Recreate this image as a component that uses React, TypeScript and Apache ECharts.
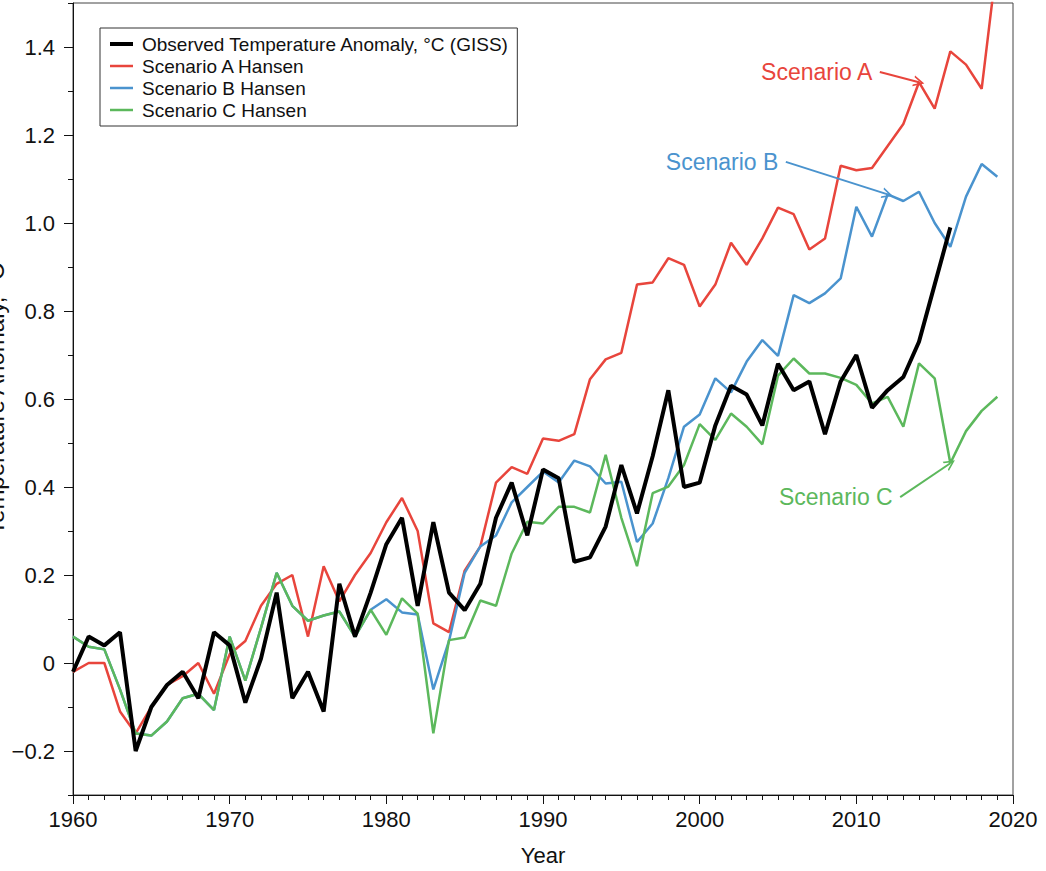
import React, { useEffect, useRef } from "react";
import * as echarts from "echarts";

const startYear = 1960;

const observed = [
  -0.02, 0.06, 0.04, 0.07, -0.2, -0.1, -0.05, -0.02, -0.08, 0.07,
  0.04, -0.09, 0.01, 0.16, -0.08, -0.02, -0.11, 0.18, 0.06, 0.16,
  0.27, 0.33, 0.13, 0.32, 0.16, 0.12, 0.18, 0.33, 0.41, 0.29,
  0.44, 0.42, 0.23, 0.24, 0.31, 0.45, 0.34, 0.47, 0.62, 0.4,
  0.41, 0.54, 0.63, 0.61, 0.54, 0.68, 0.62, 0.64, 0.52, 0.64,
  0.7, 0.58, 0.62, 0.65, 0.73, 0.86, 0.99,
];

const scenarioA = [
  -0.02, 0.0, 0.0, -0.11, -0.16, -0.1, -0.05, -0.03, 0.0, -0.07,
  0.02, 0.05, 0.13, 0.18, 0.2, 0.06, 0.22, 0.14, 0.2, 0.25,
  0.32, 0.375, 0.3, 0.09, 0.07, 0.21, 0.265, 0.41, 0.445, 0.43,
  0.51, 0.505, 0.52, 0.645, 0.69, 0.705, 0.86, 0.865, 0.92, 0.905,
  0.81, 0.86, 0.955, 0.905, 0.965, 1.035, 1.02, 0.94, 0.965, 1.13,
  1.12, 1.125, 1.175, 1.225, 1.32, 1.26, 1.39, 1.36, 1.305, 1.6,
];

const scenarioB = [
  0.06, 0.037, 0.031, -0.06, -0.16, -0.165, -0.133, -0.08, -0.07, -0.107,
  0.06, -0.04, 0.08, 0.205, 0.13, 0.096, 0.108, 0.117, 0.06, 0.121,
  0.145, 0.115, 0.11, -0.06, 0.05, 0.205, 0.265, 0.29, 0.365, 0.4,
  0.435, 0.41, 0.46, 0.447, 0.408, 0.412, 0.275, 0.317, 0.42, 0.537,
  0.565, 0.647, 0.615, 0.685, 0.734, 0.698, 0.836, 0.818, 0.84, 0.874,
  1.037, 0.969, 1.065, 1.05, 1.071, 1.0, 0.946, 1.06, 1.134, 1.105,
];

const scenarioC = [
  0.06, 0.037, 0.031, -0.06, -0.16, -0.165, -0.133, -0.08, -0.07, -0.107,
  0.06, -0.04, 0.08, 0.205, 0.13, 0.096, 0.108, 0.117, 0.06, 0.121,
  0.064, 0.147, 0.112, -0.16, 0.052, 0.058, 0.142, 0.13, 0.249, 0.321,
  0.317, 0.355, 0.355, 0.342, 0.473, 0.33, 0.22, 0.386, 0.401, 0.45,
  0.543, 0.507, 0.567, 0.537, 0.497, 0.653, 0.692, 0.658, 0.658, 0.648,
  0.632, 0.59, 0.605, 0.537, 0.681, 0.647, 0.454, 0.527, 0.573, 0.605,
];

const yMajorTicks = [-0.2, 0, 0.2, 0.4, 0.6, 0.8, 1.0, 1.2, 1.4];

const seriesNames = [
  "Observed Temperature Anomaly, °C (GISS)",
  "Scenario A Hansen",
  "Scenario B Hansen",
  "Scenario C Hansen",
];

const RED = "#E8453C";
const BLUE = "#4A93CE";
const GREEN = "#5CB85C";
const FONT = "'Liberation Sans', Arial, Helvetica, sans-serif";

// annotation: label text, arrow start (data coords) and the year it points to
const annotations = {
  A: { text: "Scenario A", start: [2011.5, 1.343], year: 2014 },
  B: { text: "Scenario B", start: [2005.5, 1.139], year: 2012 },
  C: { text: "Scenario C", start: [2012.8, 0.377], year: 2016 },
};

const chevron = "path://M0,10 L5,0 L10,10 L8.4,10 L5,3.2 L1.6,10 Z";
const thickIcon = "path://M0,0 L23,0 L23,4 L0,4 Z";
const thinIcon = "path://M0,0 L23,0 L23,2.5 L0,2.5 Z";

const toPairs = (vals: number[]) => vals.map((v, i) => [startYear + i, v]);

function annotate(values: number[], ann: { text: string; start: number[]; year: number }, color: string) {
  const target = [ann.year, values[ann.year - startYear]];
  return {
    markLine: {
      silent: true,
      animation: false,
      symbol: ["none", chevron],
      symbolSize: [11, 11],
      lineStyle: { color, width: 2, type: "solid" },
      label: { show: false },
      data: [[{ coord: ann.start }, { coord: target }]],
    },
    markPoint: {
      silent: true,
      animation: false,
      data: [
        {
          coord: ann.start,
          symbol: "circle",
          symbolSize: 1,
          itemStyle: { color: "rgba(0,0,0,0)" },
          label: {
            show: true,
            position: "left",
            distance: 7,
            formatter: ann.text,
            color,
            fontSize: 23,
            fontFamily: FONT,
          },
        },
      ],
    },
  };
}

export default function App() {
  const ref = useRef<HTMLDivElement>(null);

  useEffect(() => {
    if (!ref.current) return;
    const chart = echarts.init(ref.current, null, { renderer: "svg" });
    const fmtY = (v: number) => {
      const r = Math.round(v * 10) / 10;
      if (Math.abs(r) < 1e-9) return "0";
      return r < 0 ? "\u2212" + Math.abs(r).toFixed(1) : r.toFixed(1);
    };
    const option: any = {
      animation: false,
      backgroundColor: "#ffffff",
      textStyle: { fontFamily: FONT },
      grid: {
        left: 73,
        right: 33,
        top: 3,
        bottom: 76,
        show: true,
        borderColor: "#444",
        borderWidth: 1,
        containLabel: false,
        outerBoundsMode: "none",
      },
      legend: {
        orient: "vertical",
        left: 100,
        top: 28,
        padding: [5, 8, 5, 10],
        itemGap: 0,
        itemWidth: 23,
        itemHeight: 14,
        symbolKeepAspect: true,
        backgroundColor: "#fff",
        borderColor: "#333",
        borderWidth: 1,
        borderRadius: 0,
        textStyle: {
          fontSize: 19,
          lineHeight: 22,
          color: "#111",
          fontFamily: FONT,
          padding: [0, 0, 0, 4],
        },
        data: [
          { name: seriesNames[0], icon: thickIcon, itemStyle: { color: "#000" } },
          { name: seriesNames[1], icon: thinIcon, itemStyle: { color: RED } },
          { name: seriesNames[2], icon: thinIcon, itemStyle: { color: BLUE } },
          { name: seriesNames[3], icon: thinIcon, itemStyle: { color: GREEN } },
        ],
      },
      xAxis: {
        type: "value",
        min: 1960,
        max: 2020,
        interval: 10,
        name: "Year",
        nameLocation: "middle",
        nameGap: 49,
        nameMoveOverlap: false,
        nameTextStyle: { fontSize: 22, color: "#111", fontFamily: FONT },
        axisLine: { show: true, onZero: false, lineStyle: { color: "#111", width: 1 } },
        axisTick: { show: true, inside: false, length: 9, lineStyle: { color: "#111" } },
        minorTick: { show: true, splitNumber: 10, length: 5, lineStyle: { color: "#111" } },
        axisLabel: {
          fontSize: 22,
          color: "#111",
          margin: 13,
          fontFamily: FONT,
          formatter: (v: number) => String(v),
        },
        splitLine: { show: false },
        minorSplitLine: { show: false },
      },
      yAxis: [
        {
          type: "value",
          min: -0.3,
          max: 1.5,
          interval: 0.1,
          position: "left",
          axisLine: { show: true, onZero: false, lineStyle: { color: "#111", width: 1 } },
          axisTick: { show: true, inside: false, length: 5, lineStyle: { color: "#111" } },
          axisLabel: { show: false },
          splitLine: { show: false },
        },
        {
          type: "value",
          min: -0.3,
          max: 1.5,
          interval: 0.1,
          position: "left",
          name: "Temperature Anomaly, °C",
          nameLocation: "middle",
          nameGap: 66,
          nameMoveOverlap: false,
          nameRotate: 90,
          nameTextStyle: { fontSize: 24, color: "#111", fontFamily: FONT },
          axisLine: { show: false, onZero: false },
          axisTick: {
            show: true,
            inside: false,
            length: 9,
            customValues: yMajorTicks,
            lineStyle: { color: "#111" },
          },
          axisLabel: {
            show: true,
            customValues: yMajorTicks,
            fontSize: 22,
            color: "#111",
            margin: 18,
            fontFamily: FONT,
            formatter: (v: number) => {
              const k = Math.round(v * 10);
              return k % 2 === 0 ? fmtY(v) : "";
            },
          },
          splitLine: { show: false },
        },
      ],
      series: [
        {
          name: seriesNames[0],
          type: "line",
          data: toPairs(observed),
          symbol: "none",
          z: 6,
          color: "#000",
          lineStyle: { color: "#000", width: 4 },
        },
        {
          name: seriesNames[1],
          type: "line",
          data: toPairs(scenarioA),
          symbol: "none",
          z: 3,
          color: RED,
          lineStyle: { color: RED, width: 2.5 },
          ...annotate(scenarioA, annotations.A, RED),
        },
        {
          name: seriesNames[2],
          type: "line",
          data: toPairs(scenarioB),
          symbol: "none",
          z: 4,
          color: BLUE,
          lineStyle: { color: BLUE, width: 2.5 },
          ...annotate(scenarioB, annotations.B, BLUE),
        },
        {
          name: seriesNames[3],
          type: "line",
          data: toPairs(scenarioC),
          symbol: "none",
          z: 5,
          color: GREEN,
          lineStyle: { color: GREEN, width: 2.5 },
          ...annotate(scenarioC, annotations.C, GREEN),
        },
      ],
    };
    chart.setOption(option);
    return () => chart.dispose();
  }, []);

  return (
    <div
      ref={ref}
      style={{ position: "fixed", left: 0, top: 0, width: 1046, height: 871, background: "#fff" }}
    />
  );
}
